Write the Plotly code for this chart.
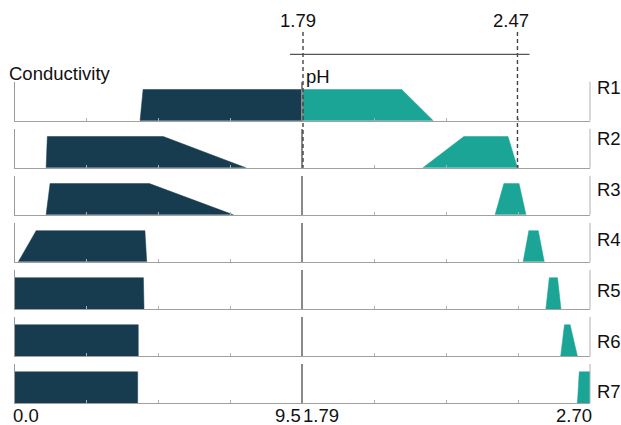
import plotly.graph_objects as go

# ---- data -------------------------------------------------------------
rows = ["R1", "R2", "R3", "R4", "R5", "R6", "R7"]

cond_range = [0.0, 9.5]
ph_range = [1.79, 2.70]
ph_cut_low = 1.79
ph_cut_high = 2.47

# conductivity membership trapezoids: bottom-left, top-left, top-right, bottom-right
cond_bl = [4.14, 1.03, 1.03, 0.11, 0.00, 0.00, 0.00]
cond_tl = [4.24, 1.07, 1.16, 0.70, 0.00, 0.00, 0.00]
cond_tr = [9.50, 4.91, 4.45, 4.30, 4.25, 4.08, 4.06]
cond_br = [9.50, 7.64, 7.23, 4.36, 4.27, 4.08, 4.06]

# pH membership trapezoids: bottom-left, top-left, top-right, bottom-right
ph_bl = [1.790, 2.170, 2.399, 2.488, 2.560, 2.607, 2.660]
ph_tl = [1.790, 2.300, 2.427, 2.506, 2.571, 2.619, 2.666]
ph_tr = [2.103, 2.440, 2.475, 2.536, 2.597, 2.637, 2.700]
ph_br = [2.203, 2.470, 2.497, 2.555, 2.608, 2.660, 2.700]

# ---- styling / geometry -----------------------------------------------
W, H = 621, 425
DARK = "#183c4f"
TEAL = "#1ba596"
FONT = dict(family="Liberation Sans, Arial, sans-serif", size=18.5, color="#111111")


def py(px):
    return 1 - px / H


row_bottom0 = 120.7
row_pitch = 47.05
row_h = 39.0
left_dom = [15 / W, 302 / W]
right_dom = [303 / W, 590 / W]


def ph_paper(v):
    """Map a pH value to paper x through the pH panel domain."""
    f = (v - ph_range[0]) / (ph_range[1] - ph_range[0])
    return right_dom[0] + f * (right_dom[1] - right_dom[0])


fig = go.Figure()
layout = dict(
    width=W, height=H,
    margin=dict(l=0, r=0, t=0, b=0),
    paper_bgcolor="white", plot_bgcolor="white",
    showlegend=False,
)

cond_ticks = [cond_range[0] + (cond_range[1] - cond_range[0]) * f for f in (0.25, 0.5, 0.75)]
ph_ticks = [ph_range[0] + (ph_range[1] - ph_range[0]) * f for f in (0.25, 0.5, 0.75)]

shapes = []
for k, name in enumerate(rows):
    bottom = row_bottom0 + row_pitch * k
    ydom = [py(bottom), py(bottom - row_h)]
    li, ri = 2 * k + 1, 2 * k + 2
    for idx, dom, rng, ticks, ylw, ylc in (
        (li, left_dom, cond_range, cond_ticks, 1, "#9a9a9a"),
        (ri, right_dom, ph_range, ph_ticks, 2, "#8a8a8a"),
    ):
        sfx = "" if idx == 1 else str(idx)
        layout["xaxis" + sfx] = dict(
            domain=dom, range=rng, anchor="y" + sfx,
            showline=True, linecolor="#a0a0a0", linewidth=1,
            ticks="inside", ticklen=3, tickcolor="#b0b0b0", tickwidth=1,
            tickvals=ticks, showticklabels=False,
            showgrid=False, zeroline=False, fixedrange=True,
        )
        layout["yaxis" + sfx] = dict(
            domain=ydom, range=[0, 1.25], anchor="x" + sfx,
            showline=True, linecolor=ylc, linewidth=ylw,
            ticks="", showticklabels=False,
            showgrid=False, zeroline=False, fixedrange=True,
        )

    lx = "x" if li == 1 else "x%d" % li
    ly = "y" if li == 1 else "y%d" % li
    fig.add_trace(go.Scatter(
        x=[cond_bl[k], cond_tl[k], cond_tr[k], cond_br[k], cond_bl[k]],
        y=[0, 1, 1, 0, 0], mode="lines", fill="toself",
        fillcolor=DARK, line=dict(color=DARK, width=0.5),
        xaxis=lx, yaxis=ly, hoverinfo="skip",
    ))
    fig.add_trace(go.Scatter(
        x=[ph_bl[k], ph_tl[k], ph_tr[k], ph_br[k], ph_bl[k]],
        y=[0, 1, 1, 0, 0], mode="lines", fill="toself",
        fillcolor=TEAL, line=dict(color=TEAL, width=0.5),
        xaxis="x%d" % ri, yaxis="y%d" % ri, hoverinfo="skip",
    ))
    # thin frame line on the right edge of each pH panel
    shapes.append(dict(
        type="line", xref="x%d domain" % ri, yref="y%d domain" % ri,
        x0=1, x1=1, y0=0, y1=1, line=dict(color="#b0b0b0", width=1),
    ))

# threshold markers above the pH panels
r2_bottom = row_bottom0 + row_pitch * 1
for xv in (ph_cut_low, ph_cut_high):
    shapes.append(dict(
        type="line", xref="paper", yref="paper",
        x0=ph_paper(xv), x1=ph_paper(xv), y0=py(32), y1=py(r2_bottom),
        line=dict(color="#444444", width=1.4, dash="4px,3px"),
    ))
shapes.append(dict(
    type="line", xref="paper", yref="paper",
    x0=ph_paper(ph_cut_low) - 13 / W, x1=ph_paper(ph_cut_high) + 12 / W,
    y0=py(54.3), y1=py(54.3),
    line=dict(color="#555555", width=1.3),
))
layout["shapes"] = shapes

ann = []
ann.append(dict(text="%.2f" % ph_cut_low, xref="paper", yref="paper", x=ph_paper(ph_cut_low),
                y=py(20), xanchor="center", yanchor="middle", xshift=-5,
                showarrow=False, font=FONT))
ann.append(dict(text="%.2f" % ph_cut_high, xref="paper", yref="paper", x=ph_paper(ph_cut_high),
                y=py(20), xanchor="center", yanchor="middle", xshift=-6,
                showarrow=False, font=FONT))
ann.append(dict(text="Conductivity", xref="paper", yref="paper", x=7 / W, y=py(73),
                xanchor="left", yanchor="middle", showarrow=False, font=FONT))
ann.append(dict(text="pH", xref="paper", yref="paper", x=ph_paper(ph_range[0]), y=py(76),
                xanchor="left", yanchor="middle", xshift=1, showarrow=False, font=FONT))
for k, name in enumerate(rows):
    ann.append(dict(text=name, xref="paper", yref="paper", x=595 / W,
                    y=py(88 + 50.6 * k), xanchor="left", yanchor="middle",
                    showarrow=False, font=FONT))

last_l = "x%d" % (2 * len(rows) - 1)
last_r = "x%d" % (2 * len(rows))
ybot = py(415)
ann.append(dict(text="%.1f" % cond_range[0], xref=last_l, yref="paper", x=cond_range[0],
                y=ybot, xanchor="left", yanchor="middle", xshift=-4,
                showarrow=False, font=FONT))
ann.append(dict(text="%.1f" % cond_range[1], xref=last_l, yref="paper", x=cond_range[1],
                y=ybot, xanchor="right", yanchor="middle", xshift=1,
                showarrow=False, font=FONT))
ann.append(dict(text="%.2f" % ph_range[0], xref=last_r, yref="paper", x=ph_range[0],
                y=ybot, xanchor="left", yanchor="middle", xshift=-2,
                showarrow=False, font=FONT))
ann.append(dict(text="%.2f" % ph_range[1], xref=last_r, yref="paper", x=ph_range[1],
                y=ybot, xanchor="right", yanchor="middle", xshift=4,
                showarrow=False, font=FONT))
layout["annotations"] = ann

fig.update_layout(**layout)
fig.write_html("out.html", config={"displayModeBar": False})
